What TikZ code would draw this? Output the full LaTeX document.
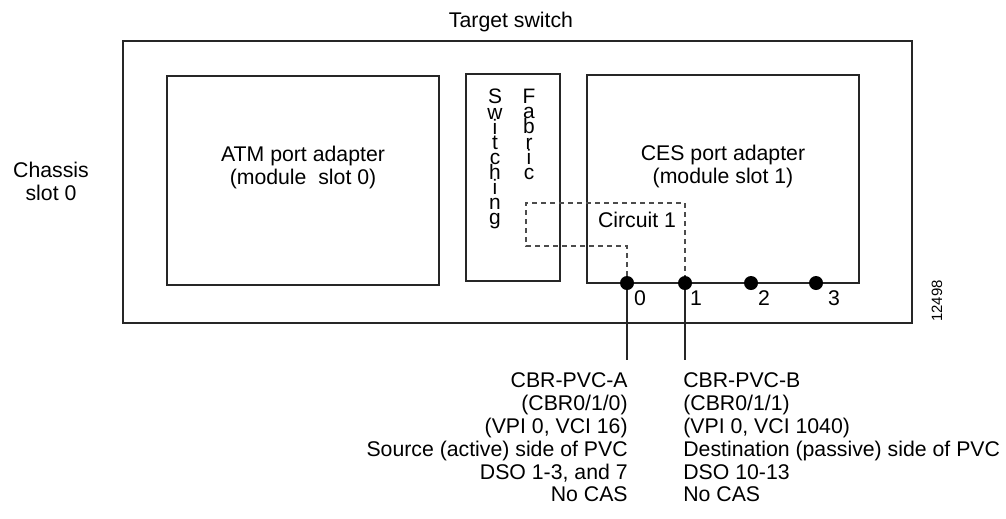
\documentclass[tikz,border=0pt]{standalone}
\usepackage{fontspec}
\setmainfont{Liberation Sans}
\usetikzlibrary{positioning}
\lineskiplimit=-100pt
\tikzset{
  frame/.style={draw=black!85, line width=0.6pt},
  txt/.style={inner sep=0pt, font=\fontsize{12.1}{13}\selectfont},
  letters/.style={inner sep=0pt, align=center, font=\fontsize{11.9}{8.6}\selectfont},
  tag/.style={inner sep=0pt, font=\fontsize{8.5}{10}\selectfont},
  port/.style={circle, fill=black, inner sep=0pt, minimum size=0.28cm},
  lead/.style={draw=black!85, line width=0.6pt},
  circuit/.style={draw=black!70, line width=0.6pt, dash pattern=on 0.1cm off 0.08cm}
}
\begin{document}
\begin{tikzpicture}[x=0.02cm, y=-0.02cm]
  \useasboundingbox (0,0) rectangle (1006,518);
  \draw[frame] (123,41) rectangle (912,323);
  \draw[frame] (167,76) rectangle (439,285);
  \draw[frame] (466,74) rectangle (560,281);
  \draw[frame] (587,75) rectangle (859,283);
  \node[txt, anchor=base] (title) at (511,27) {Target switch};
  \node[txt, anchor=north, align=center] (chassis) at (51,161.5) {Chassis\\slot 0};
  \node[txt, anchor=north, align=center] (atm) at (303,145.5) {ATM port adapter\\(module\ \ slot 0)};
  \node[txt, anchor=north, align=center] (ces) at (723,144.5) {CES port adapter\\(module slot 1)};
  \node[letters, anchor=north] (sw) at (495,89) {S\\w\\i\\t\\c\\h\\i\\n\\g};
  \node[letters, anchor=north] (fab) at (529,89) {F\\a\\b\\r\\i\\c};
  \node[txt, anchor=base] (circ) at (637,227) {Circuit 1};
  \node[port] (p0) at (627,283) {};
  \node[port] (p1) at (685,283) {};
  \node[port] (p2) at (751,283) {};
  \node[port] (p3) at (816,283) {};
  \node[txt, anchor=base] (n0) at (640,305) {0};
  \node[txt, anchor=base] (n1) at (696,305) {1};
  \node[txt, anchor=base] (n2) at (764,305) {2};
  \node[txt, anchor=base] (n3) at (834,305) {3};
  \coordinate (end0) at (627,360);
  \coordinate (end1) at (685,360);
  \draw[circuit] (p0.north) |- (526,246) |- (p1 |- 0,203) -- (p1.north);
  \draw[lead] (p0.south) -- (end0);
  \draw[lead] (p1.south) -- (end1);
  \node[txt, anchor=north east, align=right] (src) at (628,372.5) {CBR-PVC-A\\(CBR0/1/0)\\(VPI 0, VCI 16)\\Source (active) side of PVC\\DSO 1-3, and 7\\No CAS};
  \node[txt, anchor=north west, align=left] (dst) at (683,372.5) {CBR-PVC-B\\(CBR0/1/1)\\(VPI 0, VCI 1040)\\Destination (passive) side of PVC\\DSO 10-13\\No CAS};
  \node[tag, rotate=90] (fig) at (937,301) {12498};
\end{tikzpicture}
\end{document}
